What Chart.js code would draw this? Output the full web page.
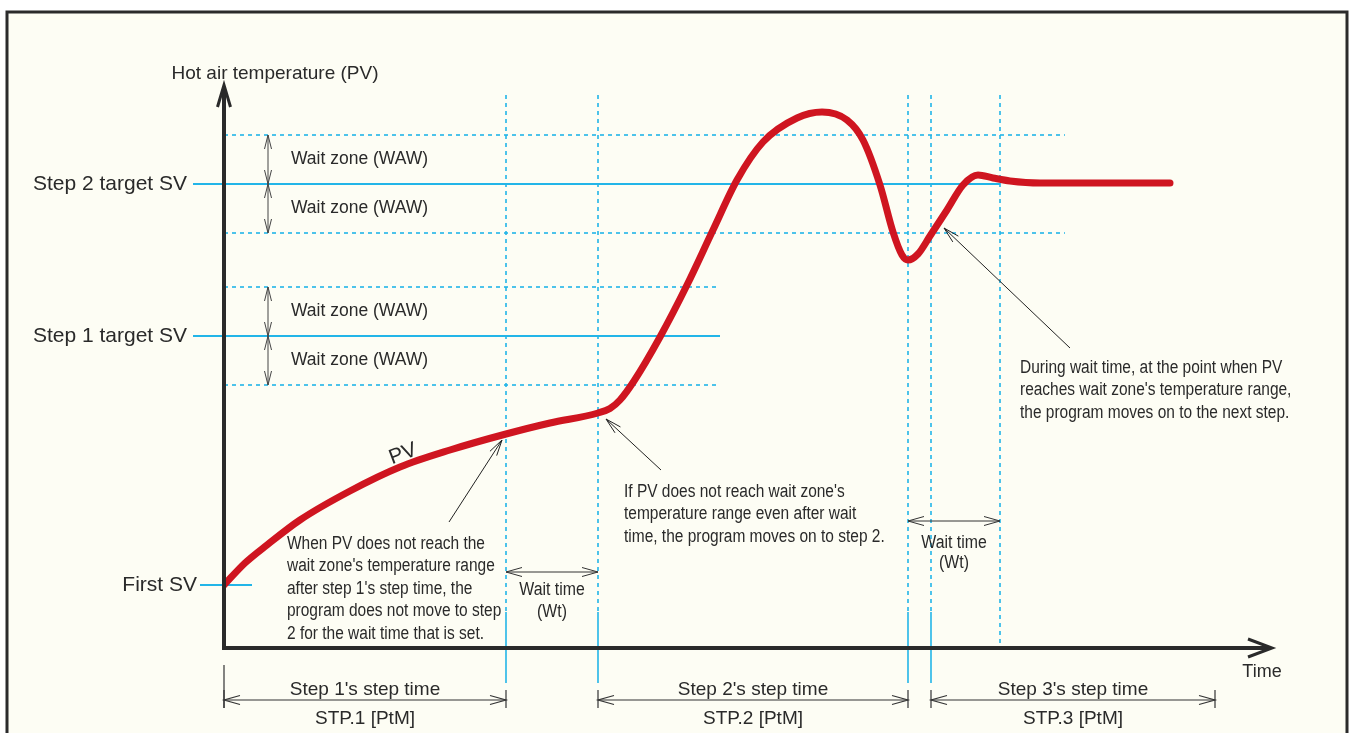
<!DOCTYPE html>
<html>
<head>
<meta charset="utf-8">
<script src="https://cdn.jsdelivr.net/npm/chart.js@4.4.1/dist/chart.umd.min.js"></script>
<style>
  html, body { margin: 0; padding: 0; background: #fff; }
  #wrap { width: 1352px; height: 733px; position: relative; }
</style>
</head>
<body>
<div id="wrap"><canvas id="chart"></canvas></div>
<script>
/* ================= DATA ================= */
// time (x) and hot air temperature (y) in arbitrary units
const timeValues = [0, 2.1, 4.3, 7.6, 12.6, 17.6, 22.6, 28.2, 32.6, 37.4, 38.6, 39.6, 41.0, 43.6, 46.3, 48.9,
                    51.3, 53.9, 57.3, 59.8, 62.3, 63.9, 65.6, 66.9, 67.8, 68.4, 69.4, 70.6, 72.3, 73.9, 75.4,
                    76.9, 78.6, 81.6, 94.6];
const pvValues   = [12.6, 17.0, 20.6, 25.6, 31.4, 36.2, 39.6, 42.8, 45.0, 47.0, 47.9, 49.6, 53.4, 62.2, 72.6, 83.6,
                    93.6, 101.2, 106.0, 107.2, 105.6, 101.6, 92.6, 83.2, 78.6, 77.6, 78.8, 82.4, 87.6, 92.6, 94.6,
                    94.0, 93.4, 93.0, 93.0];

const svLabels  = ["First SV", "Step 1 target SV", "Step 2 target SV"];
const svValues  = [12.6, 62.4, 92.8];
const waitZone  = 9.8;

// step boundaries on the time axis
const step1End  = 28.2;
const wait1End  = 37.4;
const step2End  = 68.4;
const step3Start = 70.7;
const wait2End  = 77.6;
const step3End  = 99.1;

const stepTitles = ["Step 1's step time", "Step 2's step time", "Step 3's step time"];
const stepCodes  = ["STP.1 [PtM]", "STP.2 [PtM]", "STP.3 [PtM]"];

const X_MAX = 104.8;
const Y_MAX = 112.6;

/* ================= STYLE ================= */
const BLUE = "#22b5e8";
const RED = "#cf1520";
const INK = "#2a2a2a";
const FONT = "'Liberation Sans', Arial, sans-serif";

/* ================= HELPERS ================= */
function openHead(ctx, x, y, angle, len, half) {
    ctx.beginPath();
    ctx.moveTo(x + Math.cos(angle) * len - Math.sin(angle) * half, y + Math.sin(angle) * len + Math.cos(angle) * half);
    ctx.lineTo(x, y);
    ctx.lineTo(x + Math.cos(angle) * len + Math.sin(angle) * half, y + Math.sin(angle) * len - Math.cos(angle) * half);
    ctx.stroke();
}

function line(ctx, x1, y1, x2, y2) {
    ctx.beginPath();
    ctx.moveTo(x1, y1);
    ctx.lineTo(x2, y2);
    ctx.stroke();
}

// horizontal double arrow between x1 and x2
function hArrow(ctx, x1, x2, y) {
    line(ctx, x1, y, x2, y);
    openHead(ctx, x1, y, 0, 16, 4.5);
    openHead(ctx, x2, y, Math.PI, 16, 4.5);
}

// vertical double arrow between y1 and y2
function vArrow(ctx, x, y1, y2) {
    line(ctx, x, y1, x, y2);
    openHead(ctx, x, y1, Math.PI / 2, 14, 3.5);
    openHead(ctx, x, y2, -Math.PI / 2, 14, 3.5);
}

// text with optional horizontal squeeze (condensed look)
function text(ctx, str, x, y, font, align, squeeze) {
    const k = squeeze || 1;
    ctx.save();
    ctx.translate(x, y);
    ctx.scale(k, 1);
    ctx.font = font;
    ctx.textAlign = align || "left";
    ctx.textBaseline = "middle";
    ctx.fillText(str, 0, 0);
    ctx.restore();
}

/* ================= BACKGROUND + FRAME ================= */
const framePlugin = {
    id: "frame",
    beforeDraw(chart) {
        const ctx = chart.ctx;
        ctx.save();
        ctx.fillStyle = "#ffffff";
        ctx.fillRect(0, 0, chart.width, chart.height);
        ctx.fillStyle = "#fdfdf4";
        ctx.fillRect(7, 12, 1340, 730);
        ctx.strokeStyle = "#2b2b2b";
        ctx.lineWidth = 3;
        ctx.strokeRect(7, 12, 1340, 730);
        ctx.restore();
    }
};

/* ================= GUIDE LINES (under the PV curve) ================= */
const guidePlugin = {
    id: "guides",
    beforeDatasetsDraw(chart) {
        const ctx = chart.ctx;
        const sx = chart.scales.x, sy = chart.scales.y;
        const X = v => sx.getPixelForValue(v);
        const Y = v => sy.getPixelForValue(v);
        const bottom = chart.chartArea.bottom;
        ctx.save();

        // wait zone dashed lines
        ctx.strokeStyle = BLUE;
        ctx.lineWidth = 1.6;
        ctx.setLineDash([4, 4]);
        line(ctx, X(0), Y(svValues[2] + waitZone), X(84.1), Y(svValues[2] + waitZone));
        line(ctx, X(0), Y(svValues[2] - waitZone), X(84.1), Y(svValues[2] - waitZone));
        line(ctx, X(0), Y(svValues[1] + waitZone), X(49.6), Y(svValues[1] + waitZone));
        line(ctx, X(0), Y(svValues[1] - waitZone), X(49.6), Y(svValues[1] - waitZone));

        // vertical dashed lines
        const vTop = Y(110.6);
        [step1End, wait1End, step2End, step3Start].forEach(t => line(ctx, X(t), vTop, X(t), Y(7.2)));
        line(ctx, X(wait2End), vTop, X(wait2End), Y(0));

        // solid lower parts of step boundaries
        ctx.setLineDash([]);
        ctx.lineWidth = 1.6;
        [step1End, wait1End, step2End, step3Start].forEach(t => line(ctx, X(t), Y(7.2), X(t), bottom + 35));

        // SV lines
        ctx.lineWidth = 2;
        line(ctx, X(-3.1), Y(svValues[2]), X(wait2End), Y(svValues[2]));
        line(ctx, X(-3.1), Y(svValues[1]), X(49.6), Y(svValues[1]));
        line(ctx, X(-2.4), Y(svValues[0]), X(2.8), Y(svValues[0]));
        ctx.restore();
    }
};

/* ================= AXES + ANNOTATIONS ================= */
const notePlugin = {
    id: "notes",
    afterDatasetsDraw(chart) {
        const ctx = chart.ctx;
        const sx = chart.scales.x, sy = chart.scales.y;
        const X = v => sx.getPixelForValue(v);
        const Y = v => sy.getPixelForValue(v);
        const { left, right, top, bottom } = chart.chartArea;
        ctx.save();

        // axes
        ctx.strokeStyle = INK;
        ctx.lineWidth = 4;
        ctx.lineCap = "butt";
        line(ctx, left, bottom + 2, left, top + 2);
        line(ctx, left - 2, bottom, right - 2, bottom);
        ctx.lineWidth = 3;
        openHead(ctx, left, top, Math.PI / 2, 22, 6.5);
        openHead(ctx, right, bottom, Math.PI, 24, 9);

        ctx.fillStyle = "#2a2a2a";
        text(ctx, "Hot air temperature (PV)", 275, 74, "19px " + FONT, "center");
        text(ctx, "Time", right - 10, bottom + 24, "18px " + FONT, "center");

        // SV labels
        text(ctx, svLabels[2], left - 37, Y(svValues[2]), "21px " + FONT, "right");
        text(ctx, svLabels[1], left - 37, Y(svValues[1]), "21px " + FONT, "right");
        text(ctx, svLabels[0], left - 27, Y(svValues[0]), "21px " + FONT, "right");

        // wait zone arrows + labels
        ctx.strokeStyle = "#444";
        ctx.lineWidth = 1;
        const zx = X(4.4);
        [svValues[2], svValues[1]].forEach(sv => {
            vArrow(ctx, zx, Y(sv + waitZone), Y(sv));
            vArrow(ctx, zx, Y(sv), Y(sv - waitZone));
            text(ctx, "Wait zone (WAW)", X(6.7), Y(sv + waitZone / 2), "17.5px " + FONT, "left");
            text(ctx, "Wait zone (WAW)", X(6.7), Y(sv - waitZone / 2), "17.5px " + FONT, "left");
        });

        // wait time arrows
        const wtFont = "18px " + FONT;
        ctx.strokeStyle = "#333";
        hArrow(ctx, X(step1End), X(wait1End), Y(15.2));
        text(ctx, "Wait time", (X(step1End) + X(wait1End)) / 2, Y(11.6), wtFont, "center", 0.88);
        text(ctx, "(Wt)", (X(step1End) + X(wait1End)) / 2, Y(7.2), wtFont, "center", 0.88);
        hArrow(ctx, X(step2End), X(wait2End), Y(25.4));
        text(ctx, "Wait time", (X(step2End) + X(wait2End)) / 2, Y(21.0), wtFont, "center", 0.88);
        text(ctx, "(Wt)", (X(step2End) + X(wait2End)) / 2, Y(17.0), wtFont, "center", 0.88);

        // step time dimension lines
        const dimY = bottom + 52;
        const spans = [[0, step1End], [wait1End, step2End], [step3Start, step3End]];
        ctx.strokeStyle = "#333";
        ctx.lineWidth = 1.2;
        line(ctx, X(0), bottom + 17, X(0), dimY + 8);
        spans.forEach((s, i) => {
            const a = X(s[0]), b = X(s[1]);
            hArrow(ctx, a, b, dimY);
            line(ctx, a, dimY - 10, a, dimY + 8);
            line(ctx, b, dimY - 10, b, dimY + 8);
            text(ctx, stepTitles[i], (a + b) / 2, dimY - 10, "19px " + FONT, "center");
            text(ctx, stepCodes[i], (a + b) / 2, dimY + 19, "19px " + FONT, "center");
        });

        // PV label on the curve
        ctx.save();
        ctx.translate(X(17.9), Y(38.8));
        ctx.rotate(-0.36);
        text(ctx, "PV", 0, 0, "21px " + FONT, "center");
        ctx.restore();

        // leader lines with notes
        ctx.strokeStyle = "#222";
        ctx.lineWidth = 1;
        line(ctx, X(22.5), Y(25.2), X(27.8), Y(41.6));
        openHead(ctx, X(27.8), Y(41.6), Math.atan2(Y(25.2) - Y(41.6), X(22.5) - X(27.8)), 16, 4);
        line(ctx, X(43.7), Y(35.6), X(38.2), Y(45.8));
        openHead(ctx, X(38.2), Y(45.8), Math.atan2(Y(35.6) - Y(45.8), X(43.7) - X(38.2)), 16, 4);
        line(ctx, X(84.6), Y(60.0), X(72.0), Y(84.0));
        openHead(ctx, X(72.0), Y(84.0), Math.atan2(Y(60.0) - Y(84.0), X(84.6) - X(72.0)), 16, 4);

        const noteFont = "18px " + FONT;
        const notes = [
            { x: 6.3, y: 20.8, lines: ["When PV does not reach the", "wait zone's temperature range", "after step 1's step time, the", "program does not move to step", "2 for the wait time that is set."] },
            { x: 40.0, y: 31.2, lines: ["If PV does not reach wait zone's", "temperature range even after wait", "time, the program moves on to step 2."] },
            { x: 79.6, y: 56.0, lines: ["During wait time, at the point when PV", "reaches wait zone's temperature range,", "the program moves on to the next step."] }
        ];
        notes.forEach(n => {
            n.lines.forEach((s, i) => text(ctx, s, X(n.x), Y(n.y) + i * 22.4, noteFont, "left", 0.86));
        });

        ctx.restore();
    }
};

/* ================= CHART ================= */
new Chart(document.getElementById("chart"), {
    type: "line",
    data: {
        datasets: [{
            label: "PV",
            data: timeValues.map((t, i) => ({ x: t, y: pvValues[i] })),
            borderColor: RED,
            borderWidth: 7,
            borderCapStyle: "round",
            borderJoinStyle: "round",
            pointRadius: 0,
            cubicInterpolationMode: "monotone",
            fill: false
        }]
    },
    options: {
        responsive: true,
        maintainAspectRatio: false,
        animation: false,
        layout: { padding: { left: 224, right: 80, top: 85, bottom: 85 } },
        scales: {
            x: { type: "linear", min: 0, max: X_MAX, display: false },
            y: { type: "linear", min: 0, max: Y_MAX, display: false }
        },
        plugins: {
            legend: { display: false },
            tooltip: { enabled: false }
        }
    },
    plugins: [framePlugin, guidePlugin, notePlugin]
});
</script>
</body>
</html>
